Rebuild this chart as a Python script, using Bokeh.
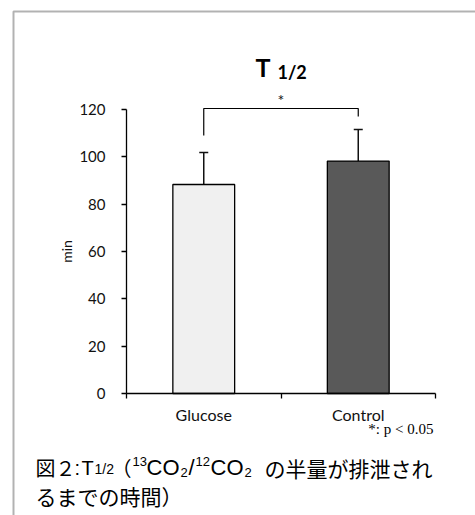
from bokeh.plotting import figure
from bokeh.models import (ColumnDataSource, Range1d, FixedTicker, Whisker, TeeHead,
                          Label, BoxAnnotation)
from bokeh.embed import file_html
from bokeh.resources import INLINE

# ---- data ----
categories = ["Glucose", "Control"]
means = [88.3, 98.2]
errors = [13.5, 13.3]
bar_colors = ["#f0f0f0", "#595959"]
y_ticks = [0, 20, 40, 60, 80, 100, 120]
y_max = 120
sig_label = "*"
note = "*: p < 0.05"

# ---- layout geometry (page pixels) ----
W, H = 475, 515
F_LEFT, F_RIGHT, F_BOTTOM = 126, 435, 393
PX_PER_UNIT = 284 / 120.0
N = len(categories)

def dx(xp):
    return (xp - F_LEFT) / (F_RIGHT - F_LEFT) * N

def dy(yp):
    return (F_BOTTOM - yp) / PX_PER_UNIT

xs = [i + 0.5 for i in range(N)]
src = ColumnDataSource(dict(
    x=xs, top=means, color=bar_colors,
    upper=[m + e for m, e in zip(means, errors)],
    lower=[m - e for m, e in zip(means, errors)],
))

p = figure(width=W, height=H, output_backend="svg", toolbar_location=None,
           x_range=Range1d(dx(0), dx(W)), y_range=Range1d(dy(H), dy(0)),
           min_border=0, min_border_left=0, min_border_right=0,
           min_border_top=0, min_border_bottom=0)
p.outline_line_color = None
p.xgrid.grid_line_color = None
p.ygrid.grid_line_color = None
p.background_fill_color = "white"
p.border_fill_color = "white"

FONT = "Lato"

p.vbar(x="x", top="top", width=0.4, fill_color="color", line_color="black",
       line_width=1.3, source=src)

p.add_layout(Whisker(source=src, base="x", upper="upper", lower="lower",
                     line_color="#111111", line_width=1.5,
                     upper_head=TeeHead(size=9, line_color="#111111", line_width=1.5),
                     lower_head=TeeHead(size=9, line_color="#111111", line_width=1.5)))

# significance bracket
br_top = dy(108)
p.line(x=[xs[0], xs[0], xs[1], xs[1]], y=[dy(135), br_top, br_top, dy(116)],
       line_color="black", line_width=1.2)
p.add_layout(Label(x=(xs[0] + xs[1]) / 2, y=dy(99), text=sig_label, text_align="center",
                   text_baseline="middle", text_font=FONT, text_font_size="16px",
                   text_color="#111111"))

# axes (fixed inside the full-canvas frame)
xa = p.xaxis[0]
xa.fixed_location = 0
xa.bounds = (0, N)
xa.ticker = FixedTicker(ticks=xs, minor_ticks=list(range(N + 1)))
xa.major_label_overrides = {x: c for x, c in zip(xs, categories)}
xa.major_tick_out = 0
xa.major_tick_in = 0
xa.minor_tick_out = 5
xa.minor_tick_in = 0
xa.axis_line_width = 1.3
xa.minor_tick_line_width = 1.3
xa.major_label_standoff = 6
xa.major_label_text_font = FONT
xa.major_label_text_font_size = "16px"
xa.major_label_text_color = "#111111"

ya = p.yaxis[0]
ya.fixed_location = 0
ya.ticker = FixedTicker(ticks=y_ticks, minor_ticks=[])
ya.bounds = (0, y_max)
ya.major_tick_out = 5
ya.major_tick_in = 0
ya.axis_line_width = 1.3
ya.major_tick_line_width = 1.3
ya.major_label_standoff = 16
ya.major_label_text_font = FONT
ya.major_label_text_font_size = "15px"
ya.major_label_text_color = "#111111"
ya.axis_label = "min"
ya.axis_label_text_font = FONT
ya.axis_label_text_font_style = "normal"
ya.axis_label_text_font_size = "14px"
ya.axis_label_text_color = "#111111"
ya.axis_label_standoff = 1

# outer frame
p.add_layout(BoxAnnotation(left=dx(13), top=dy(11), right=dx(W + 20), bottom=dy(H + 20),
                           fill_color=None, line_color="black", line_width=2))

# title "T 1/2"
p.add_layout(Label(x=dx(255), y=dy(66), text="T", text_font=FONT, text_font_style="bold",
                   text_font_size="25px", text_baseline="middle", text_color="black"))
p.add_layout(Label(x=dx(277), y=dy(71), text="1/2", text_font=FONT, text_font_style="bold",
                   text_font_size="18px", text_baseline="middle", text_color="black"))

# significance note
p.add_layout(Label(x=dx(433), y=dy(428), text=note, text_align="right",
                   text_baseline="middle",
                   text_font="Liberation Serif", text_font_size="15px", text_color="black"))

# caption
CJK = "Noto Sans CJK JP"
LAT = "Liberation Sans"
C1, SUP, SUB = 467, 461, 472
pieces = [
    (35, C1, "図２", "20px", CJK),
    (74, C1, ":", "20px", LAT),
    (81, C1, "T", "20px", LAT),
    (94, C1 + 1, "1/2", "14px", LAT),
    (111, C1, "（", "20px", CJK),
    (132, SUP, "13", "13px", LAT),
    (146, C1, "CO", "22px", LAT),
    (180, SUB, "2", "13px", LAT),
    (188, C1, "/", "22px", LAT),
    (195, SUP, "12", "13px", LAT),
    (210, C1, "CO", "22px", LAT),
    (244, SUB, "2", "13px", LAT),
    (264, C1, "の半量が排泄され", "21px", CJK),
    (35, 495, "るまでの時間）", "21px", CJK),
]
for xp, yp, t, fs, fnt in pieces:
    p.add_layout(Label(x=dx(xp), y=dy(yp), text=t, text_font=fnt, text_font_size=fs,
                       text_baseline="middle", text_color="black"))

open("out.html", "w").write(file_html(p, INLINE))
